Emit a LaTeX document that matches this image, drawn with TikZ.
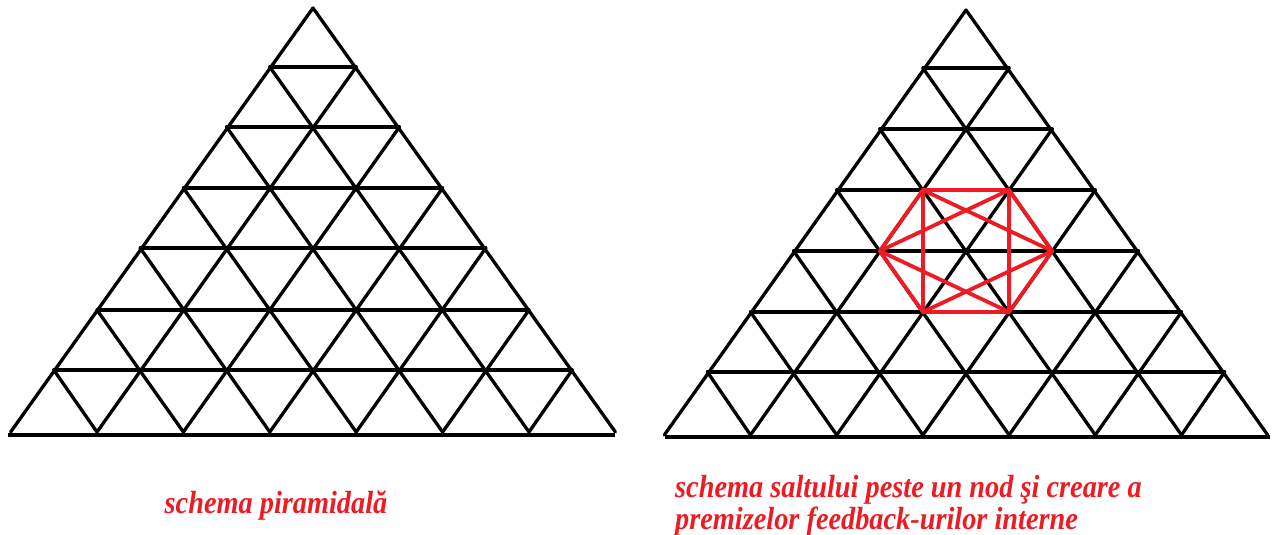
\documentclass[tikz,border=0pt]{standalone}
\usepackage{fontspec}
\setmainfont{Liberation Serif}
\definecolor{paintred}{RGB}{237,28,36}
\newcommand\mypyramid[4]{%
  \foreach \k/\yy in {#4} {
    \foreach \j in {0,...,\k} {
      \coordinate (#1-\k-\j) at ({#2+(\j-\k/2)*#3},\yy);
    }
  }
  \foreach \k in {1,...,6} \draw[gridline] (#1-\k-0) -- (#1-\k-\k);
  \foreach \j in {0,...,6} \draw[gridline] (#1-\j-\j) -- (#1-7-\j);
  \foreach \m in {0,...,6} {
    \pgfmathtruncatemacro\e{7-\m}
    \draw[gridline] (#1-\m-0) -- (#1-7-\e);
  }
}
\begin{document}
\begin{tikzpicture}[x=1pt,y=-1pt,
  gridline/.style={line width=3.3pt,line cap=round,black},
  redline/.style={line width=3.8pt,paintred,line join=round,line cap=round},
  caption/.style={text=paintred,inner sep=0pt,font=\bfseries\itshape\fontsize{32}{32}\selectfont}]
\useasboundingbox (0,0) rectangle (1275,535);
\fill[white] (0,0) rectangle (1275,535);
% left pyramid
\mypyramid{L}{313}{86.4}{0/8,1/67,2/127,3/188,4/248,5/310,6/370,7/432}
\coordinate (L-bl) at (8,435);
\coordinate (L-br) at (615,435);
\draw[gridline,line cap=butt] (L-bl) -- (L-br);
% right pyramid
\mypyramid{R}{966}{86.2}{0/10,1/68,2/129,3/190,4/251,5/312,6/372,7/435}
\coordinate (R-bl) at (665,437);
\coordinate (R-br) at (1270,437);
\draw[gridline,line cap=butt] (R-bl) -- (R-br);
% red hexagon and star
\draw[redline] (R-3-1) -- (R-3-2) -- (R-4-3) -- (R-5-3) -- (R-5-2) -- (R-4-1) -- cycle;
\draw[redline] (R-3-1) -- (R-4-3) -- (R-5-2) -- cycle;
\draw[redline] (R-3-2) -- (R-5-3) -- (R-4-1) -- cycle;
% captions
\node[caption,anchor=base] (capL) at (276,513) {\scalebox{0.885}[1]{schema piramidală}};
\node[caption,anchor=base west] (capR1) at (675,497) {\scalebox{0.885}[1]{schema saltului peste un nod şi creare a}};
\node[caption,anchor=base west] (capR2) at (675,529) {\scalebox{0.885}[1]{premizelor feedback-urilor interne}};
\end{tikzpicture}
\end{document}
